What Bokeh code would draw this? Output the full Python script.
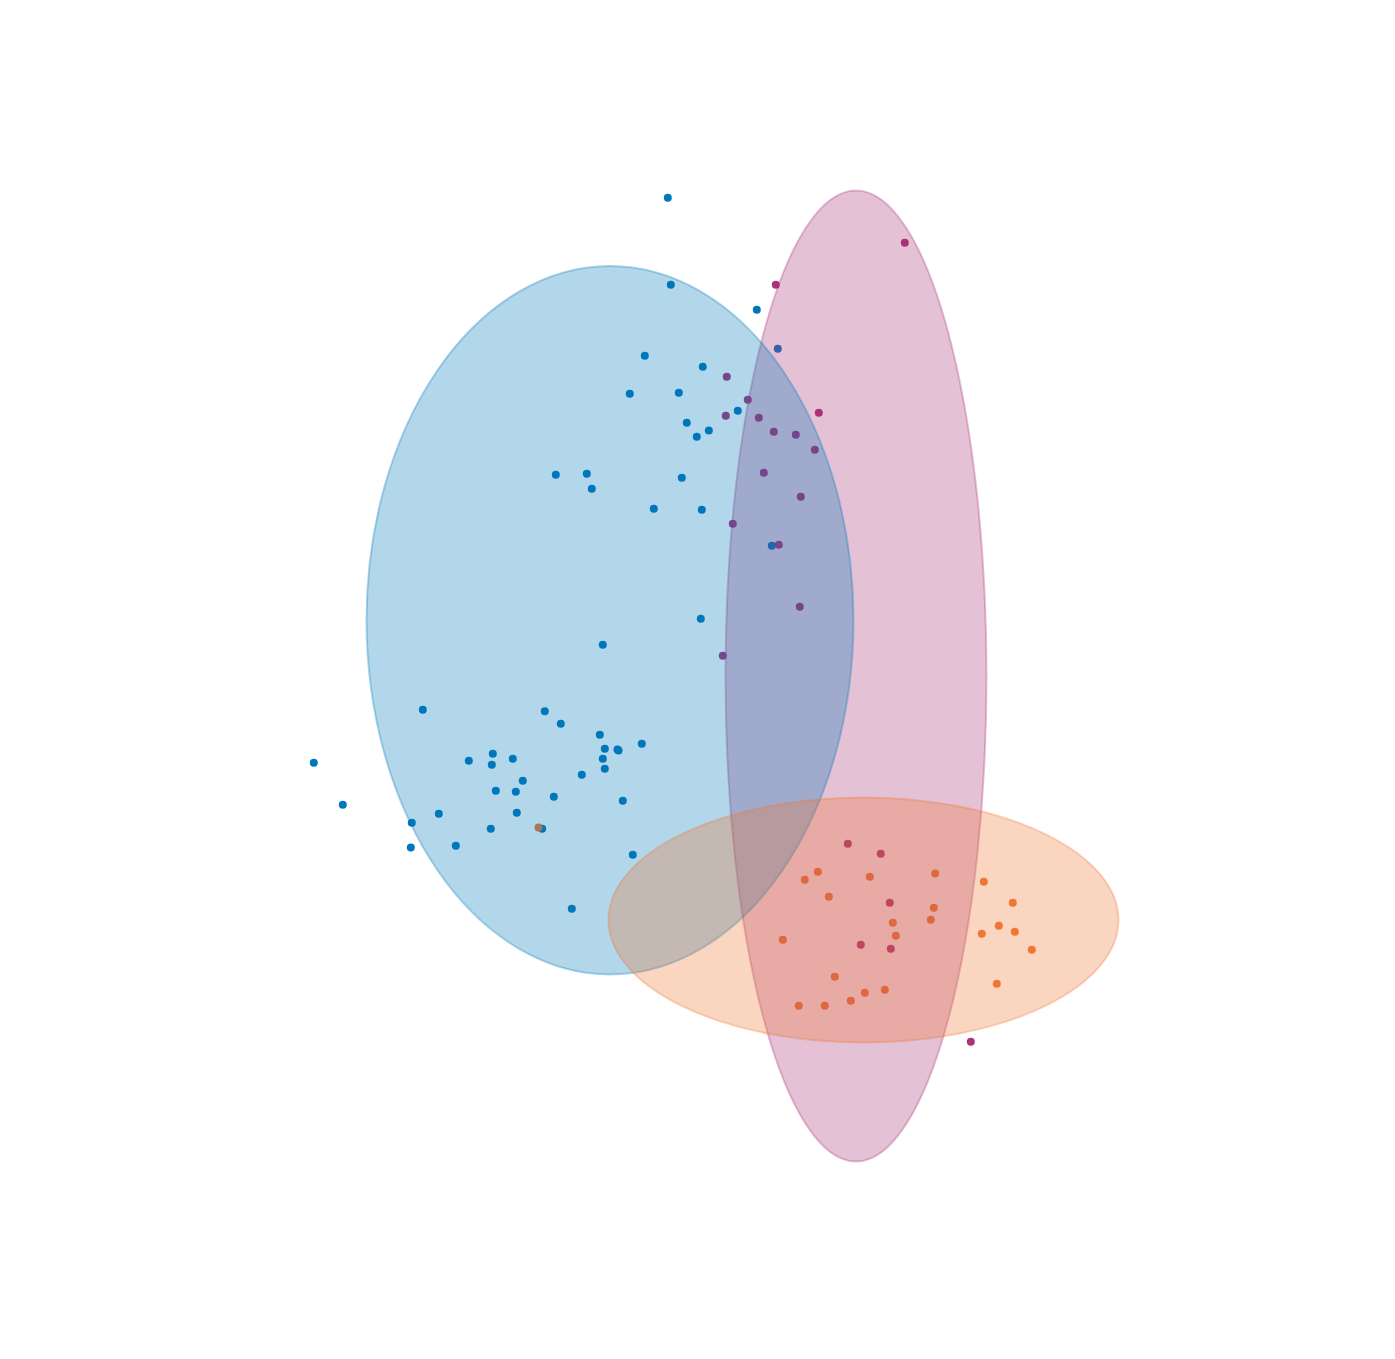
from bokeh.plotting import figure
from bokeh.models import Range1d
from bokeh.embed import file_html
from bokeh.resources import INLINE

# group colours
BLUE = "#0077BB"
PURPLE = "#AA3377"
ORANGE = "#EE7733"

# points (x to the right, y downwards)
blue_x = [667.3, 670.3, 756.3, 777.3, 644.3, 702.3, 629.3, 678.3, 737.3, 686.3,
          708.3, 696.3, 555.3, 586.3, 591.3, 681.3, 653.3, 701.3, 771.3, 700.3,
          602.3, 422.3, 544.3, 560.3, 599.3, 604.3, 618.0, 641.3, 313.3, 468.3,
          492.3, 491.3, 512.3, 602.3, 604.3, 522.3, 581.3, 495.3, 515.3, 553.3,
          622.3, 342.3, 438.3, 516.3, 411.3, 490.3, 541.7, 410.3, 455.3, 632.3,
          571.3, 617.0]
blue_y = [197.3, 284.3, 309.3, 348.3, 355.3, 366.3, 393.3, 392.3, 410.3, 422.3,
          430.0, 436.3, 474.3, 473.3, 488.3, 477.3, 508.3, 509.3, 545.3, 618.3,
          644.3, 709.3, 710.7, 723.3, 734.3, 748.3, 750.0, 743.3, 762.3, 760.3,
          753.3, 764.3, 758.3, 758.3, 768.3, 780.3, 774.3, 790.3, 791.3, 796.3,
          800.3, 804.3, 813.3, 812.3, 822.3, 828.3, 828.3, 847.0, 845.3, 854.3,
          908.3, 749.0]

purple_x = [904.3, 775.3, 818.3, 726.3, 747.3, 725.3, 758.3, 773.3, 795.3, 814.3,
            763.3, 800.3, 732.3, 778.3, 799.3, 722.3, 847.3, 880.3, 889.3, 860.3,
            890.3, 970.3]
purple_y = [242.3, 284.3, 412.3, 376.3, 399.3, 415.3, 417.3, 431.3, 434.3, 449.3,
            472.3, 496.3, 523.3, 544.3, 606.3, 655.3, 843.3, 853.3, 902.3, 944.3,
            948.3, 1041.3]

orange_x = [538.0, 817.3, 804.3, 869.3, 934.7, 983.3, 828.3, 1012.3, 933.3, 930.3,
            892.3, 895.3, 981.3, 998.3, 1014.3, 782.3, 1031.3, 834.3, 996.3, 884.3,
            864.3, 850.3, 798.3, 824.3]
orange_y = [827.0, 871.3, 879.3, 876.3, 873.0, 881.3, 896.3, 902.3, 907.3, 919.3,
            922.3, 935.3, 933.3, 925.3, 931.3, 939.3, 949.3, 976.3, 983.3, 989.3,
            992.3, 1000.3, 1005.3, 1005.3]

# ellipse centre, width, height per group
ell_purple = (855.5, 675.5, 261, 971)
ell_blue = (609.5, 619.7, 487, 708.5)
ell_orange = (863.0, 919.5, 510, 245)

p = figure(width=1379, height=1343, output_backend="svg", toolbar_location=None,
           x_range=Range1d(0, 1379), y_range=Range1d(1343, 0),
           min_border=0, outline_line_color=None)
p.axis.visible = False
p.grid.visible = False
p.background_fill_color = "white"
p.border_fill_color = "white"

p.scatter(blue_x, blue_y, size=8, color=BLUE, line_color=None)
p.scatter(purple_x, purple_y, size=8, color=PURPLE, line_color=None)
p.scatter(orange_x, orange_y, size=8, color=ORANGE, line_color=None)

for (cx, cy, w, h), col in [(ell_purple, PURPLE), (ell_blue, BLUE), (ell_orange, ORANGE)]:
    p.ellipse(x=[cx], y=[cy], width=[w], height=[h], fill_color=col, fill_alpha=0.3,
              line_color=col, line_alpha=0.3, line_width=2)

open("out.html", "w").write(file_html(p, INLINE))
